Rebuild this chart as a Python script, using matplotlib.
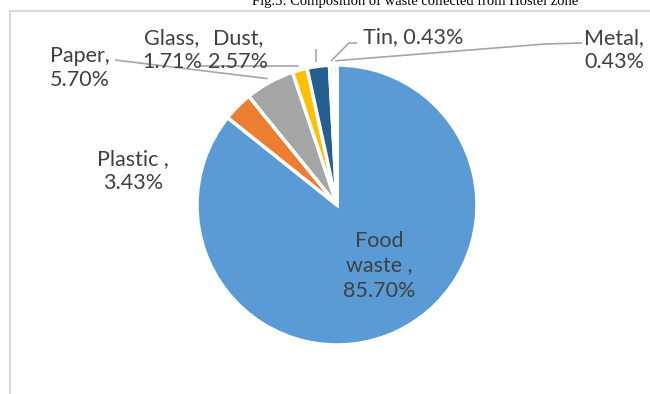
import numpy as np
import matplotlib
matplotlib.use("Agg")
import matplotlib.pyplot as plt
from matplotlib.patches import Rectangle

# waste composition (percent), clockwise from 12 o'clock
categories = ["Food waste", "Plastic", "Paper", "Glass", "Dust", "Tin", "Metal"]
values = [85.70, 3.43, 5.70, 1.71, 2.57, 0.43, 0.43]
value_labels = ["85.70%", "3.43%", "5.70%", "1.71%", "2.57%", "0.43%", "0.43%"]
colors = ["#5B9BD5", "#ED7D31", "#A5A5A5", "#FFC000", "#255E91", "#4472C4", "#70AD47"]
title = "Fig.3: Composition of waste collected from Hostel zone"

W, H = 650, 394
def py(y):
    # pixel row (from top) -> data y (from bottom)
    return H - y

fig = plt.figure(figsize=(6.5, 3.94), dpi=100)
ax = fig.add_axes([0, 0, 1, 1])

cx, cy, r = 337, py(205), 140
wedges, _ = ax.pie(values, colors=colors, startangle=90, counterclock=False,
                   center=(cx, cy), radius=r, frame=True,
                   wedgeprops=dict(edgecolor="white", linewidth=2.5))
ax.set_xlim(0, W)
ax.set_ylim(0, H)
ax.set_aspect("equal")
ax.axis("off")

# chart frame (only left/top edges visible in the crop)
ax.add_patch(Rectangle((10, -20), 700, py(11) + 20, fill=False,
                       edgecolor="#D9D9D9", linewidth=1.5))

def edge_point(w, k=1.0):
    a = np.deg2rad((w.theta1 + w.theta2) / 2)
    return cx + r * k * np.cos(a), cy + r * k * np.sin(a)

font = dict(family=["Lato", "DejaVu Sans"], size=15.5, color="#404040")
lc = "#A6A6A6"

# label text positions (pixels from top-left)
label_pos = {
    "Food waste": (379, 266),
    "Plastic": (133, 171),
    "Paper": (80, 68),
    "Glass": (172, 50),
    "Dust": (238, 50),
    "Tin": (413, 37),
    "Metal": (614, 50),
}
names = {
    "Food waste": "Food\nwaste ,",
    "Plastic": "Plastic ,",
    "Paper": "Paper,",
    "Glass": "Glass,",
    "Dust": "Dust,",
    "Tin": "Tin,",
    "Metal": "Metal,",
}
for name, val in zip(categories, value_labels):
    sep = " " if name == "Tin" else "\n"
    x, y = label_pos[name]
    ax.text(x, py(y), names[name] + sep + val, ha="center", va="center",
            linespacing=1.3, **font)

idx = {c: i for i, c in enumerate(categories)}
# leader lines: label-side points, ending at the slice edge
leaders = {
    "Paper": [(115, 60)],
    "Glass": [(200, 66)],
    "Dust": [(316, 49)],
    "Tin": [(357, 43), (349, 43)],
    "Metal": [(582, 43), (545, 44)],
}
for name, pts in leaders.items():
    ex, ey = edge_point(wedges[idx[name]], 1.03)
    xs = [p[0] for p in pts] + [ex]
    ys = [py(p[1]) for p in pts] + [ey]
    if name == "Dust":
        xs[-1] = xs[0]
    ax.plot(xs, ys, color=lc, linewidth=1.2, solid_capstyle="butt")

ax.text(415, py(5), title, ha="center", va="baseline",
        family=["Liberation Serif", "DejaVu Serif"], size=10.5, color="#000000")

fig.savefig("out.png", dpi=100)
